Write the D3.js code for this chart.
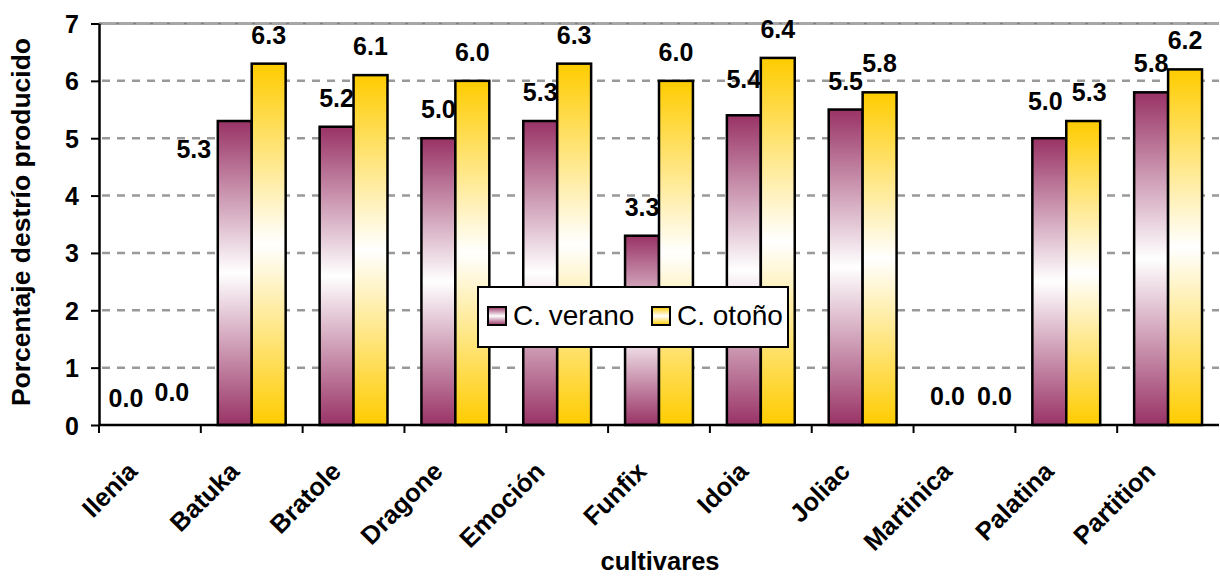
<!DOCTYPE html>
<html>
<head>
<meta charset="utf-8">
<script src="https://cdn.jsdelivr.net/npm/d3@7"></script>
<style>
  html, body { margin: 0; padding: 0; background: #fff; }
  svg { display: block; font-family: "Liberation Sans", Arial, sans-serif; }
</style>
</head>
<body>
<svg id="chart" width="1220" height="576"></svg>
<script>
// Cultivars and their waste percentage per growing season
const categories = ["Ilenia", "Batuka", "Bratole", "Dragone", "Emoción", "Funfix", "Idoia", "Joliac", "Martinica", "Palatina", "Partition"];
const seriesNames = ["C. verano", "C. otoño"];
const verano = [0.0, 5.3, 5.2, 5.0, 5.3, 3.3, 5.4, 5.5, 0.0, 5.0, 5.8];
const otono  = [0.0, 6.3, 6.1, 6.0, 6.3, 6.0, 6.4, 5.8, 0.0, 5.3, 6.2];
const yTicks = [0, 1, 2, 3, 4, 5, 6, 7];

// Manual nudges (px) for a few value labels
const labelShiftVerano = [[-7, 2], [-41, 57], [0, 0], [0, 0], [0, 0], [0, 0], [0, -7], [0, 0], [0, 0], [-4, -8], [0, 0]];
const labelShiftOtono  = [[5, -4], [0, 0], [0, 0], [0, 0], [0, 0], [0, 0], [0, 0], [0, 0], [13, 0], [6, 0], [0, 0]];

const seriesValues = [verano, otono];
const seriesShift = [labelShiftVerano, labelShiftOtono];
const seriesColors = ["#993366", "#FFCC00"];

const svg = d3.select("#chart");
const plotLeft = 99, plotRight = 1219, plotTop = 23.5, plotBottom = 425;

const x = d3.scaleBand().domain(categories).range([plotLeft, plotRight]);
const x1 = d3.scaleBand().domain(seriesNames).range([0, x.bandwidth()]).paddingOuter(0.5);
const y = d3.scaleLinear().domain([0, 7]).range([plotBottom, plotTop]);

// Vertical gradients: colour at both ends, white in the middle
const defs = svg.append("defs");
seriesColors.forEach((c, i) => {
  const g = defs.append("linearGradient")
    .attr("id", "grad" + i)
    .attr("x1", 0).attr("y1", 0).attr("x2", 0).attr("y2", 1);
  g.append("stop").attr("offset", "0%").attr("stop-color", c);
  g.append("stop").attr("offset", "50%").attr("stop-color", "#ffffff");
  g.append("stop").attr("offset", "100%").attr("stop-color", c);
});

// Gridlines
const grid = svg.append("g");
grid.append("line")
  .attr("x1", plotLeft).attr("x2", plotRight)
  .attr("y1", y(7)).attr("y2", y(7))
  .attr("stroke", "#808080").attr("stroke-width", 2.5);
grid.selectAll("line.g")
  .data(yTicks.filter(t => t > 0))
  .join("line")
  .attr("class", "g")
  .attr("x1", plotLeft + 3).attr("x2", plotRight)
  .attr("y1", d => y(d)).attr("y2", d => y(d))
  .attr("stroke", d => d === 7 ? "#a8a8a8" : "#999999")
  .attr("stroke-width", 2.5)
  .attr("stroke-dasharray", d => d === 7 ? "14,3" : "8,7");

// Bars
const groups = svg.append("g").selectAll("g")
  .data(categories)
  .join("g")
  .attr("transform", d => `translate(${x(d)},0)`);

groups.selectAll("rect")
  .data((d, i) => seriesNames.map((s, k) => ({ s, k, v: seriesValues[k][i] })))
  .join("rect")
  .filter(d => d.v > 0)
  .attr("x", d => x1(d.s))
  .attr("width", x1.bandwidth())
  .attr("y", d => y(d.v))
  .attr("height", d => y(0) - y(d.v))
  .attr("fill", d => `url(#grad${d.k})`)
  .attr("stroke", "#000")
  .attr("stroke-width", 2.5);

// Value labels
groups.selectAll("text")
  .data((d, i) => seriesNames.map((s, k) => ({ s, k, v: seriesValues[k][i], sh: seriesShift[k][i] })))
  .join("text")
  .attr("x", d => x1(d.s) + x1.bandwidth() / 2 + d.sh[0])
  .attr("y", d => y(d.v) - 20 + d.sh[1])
  .attr("text-anchor", "middle")
  .attr("font-size", 25)
  .attr("font-weight", "bold")
  .attr("fill", "#000")
  .text(d => d.v.toFixed(1));

// Y axis
const yAxis = svg.append("g")
  .attr("transform", `translate(${plotLeft},0)`)
  .call(d3.axisLeft(y).tickValues(yTicks).tickSize(8).tickPadding(12).tickSizeOuter(0).tickFormat(d3.format("d")));
yAxis.select(".domain").attr("stroke", "#000").attr("stroke-width", 2.5);
yAxis.selectAll(".tick line").attr("stroke", "#000").attr("stroke-width", 2);
yAxis.selectAll(".tick text")
  .attr("font-size", 25).attr("font-weight", "bold").attr("fill", "#000")
  .attr("font-family", "\"Liberation Sans\", Arial, sans-serif")
  .attr("dy", "0.36em");

// X axis: line, ticks at category boundaries, rotated labels
const xAxis = svg.append("g");
xAxis.append("line")
  .attr("x1", plotLeft).attr("x2", plotRight)
  .attr("y1", y(0)).attr("y2", y(0))
  .attr("stroke", "#000").attr("stroke-width", 2.5);
xAxis.selectAll("line.tk")
  .data(categories)
  .join("line")
  .attr("class", "tk")
  .attr("x1", d => x(d)).attr("x2", d => x(d))
  .attr("y1", y(0)).attr("y2", y(0) + 8)
  .attr("stroke", "#000").attr("stroke-width", 2);
xAxis.selectAll("text")
  .data(categories)
  .join("text")
  .attr("transform", d => `translate(${x(d) + x.bandwidth() / 2 - 11},${y(0) + 48}) rotate(-45)`)
  .attr("text-anchor", "end")
  .attr("font-size", 25.5)
  .attr("font-weight", "bold")
  .attr("fill", "#000")
  .text(d => d);

// Axis titles
svg.append("text")
  .attr("x", 660).attr("y", 570)
  .attr("text-anchor", "middle")
  .attr("font-size", 25.5).attr("font-weight", "bold")
  .text("cultivares");

svg.append("text")
  .attr("transform", "translate(30,222) rotate(-90)")
  .attr("text-anchor", "middle")
  .attr("font-size", 26.5).attr("font-weight", "bold")
  .text("Porcentaje destrío producido");

// Legend
const legend = svg.append("g").attr("transform", "translate(478,287)");
legend.append("rect")
  .attr("width", 310).attr("height", 60)
  .attr("fill", "#fff").attr("stroke", "#000").attr("stroke-width", 2);
const legendX = [10, 174];
seriesNames.forEach((s, k) => {
  const item = legend.append("g").attr("transform", `translate(${legendX[k]},20)`);
  item.append("rect")
    .attr("width", 18).attr("height", 18)
    .attr("fill", `url(#grad${k})`)
    .attr("stroke", "#000").attr("stroke-width", 2);
  item.append("text")
    .attr("x", 25).attr("y", 18)
    .attr("font-size", 28)
    .attr("fill", "#000")
    .text(s);
});
</script>
</body>
</html>
